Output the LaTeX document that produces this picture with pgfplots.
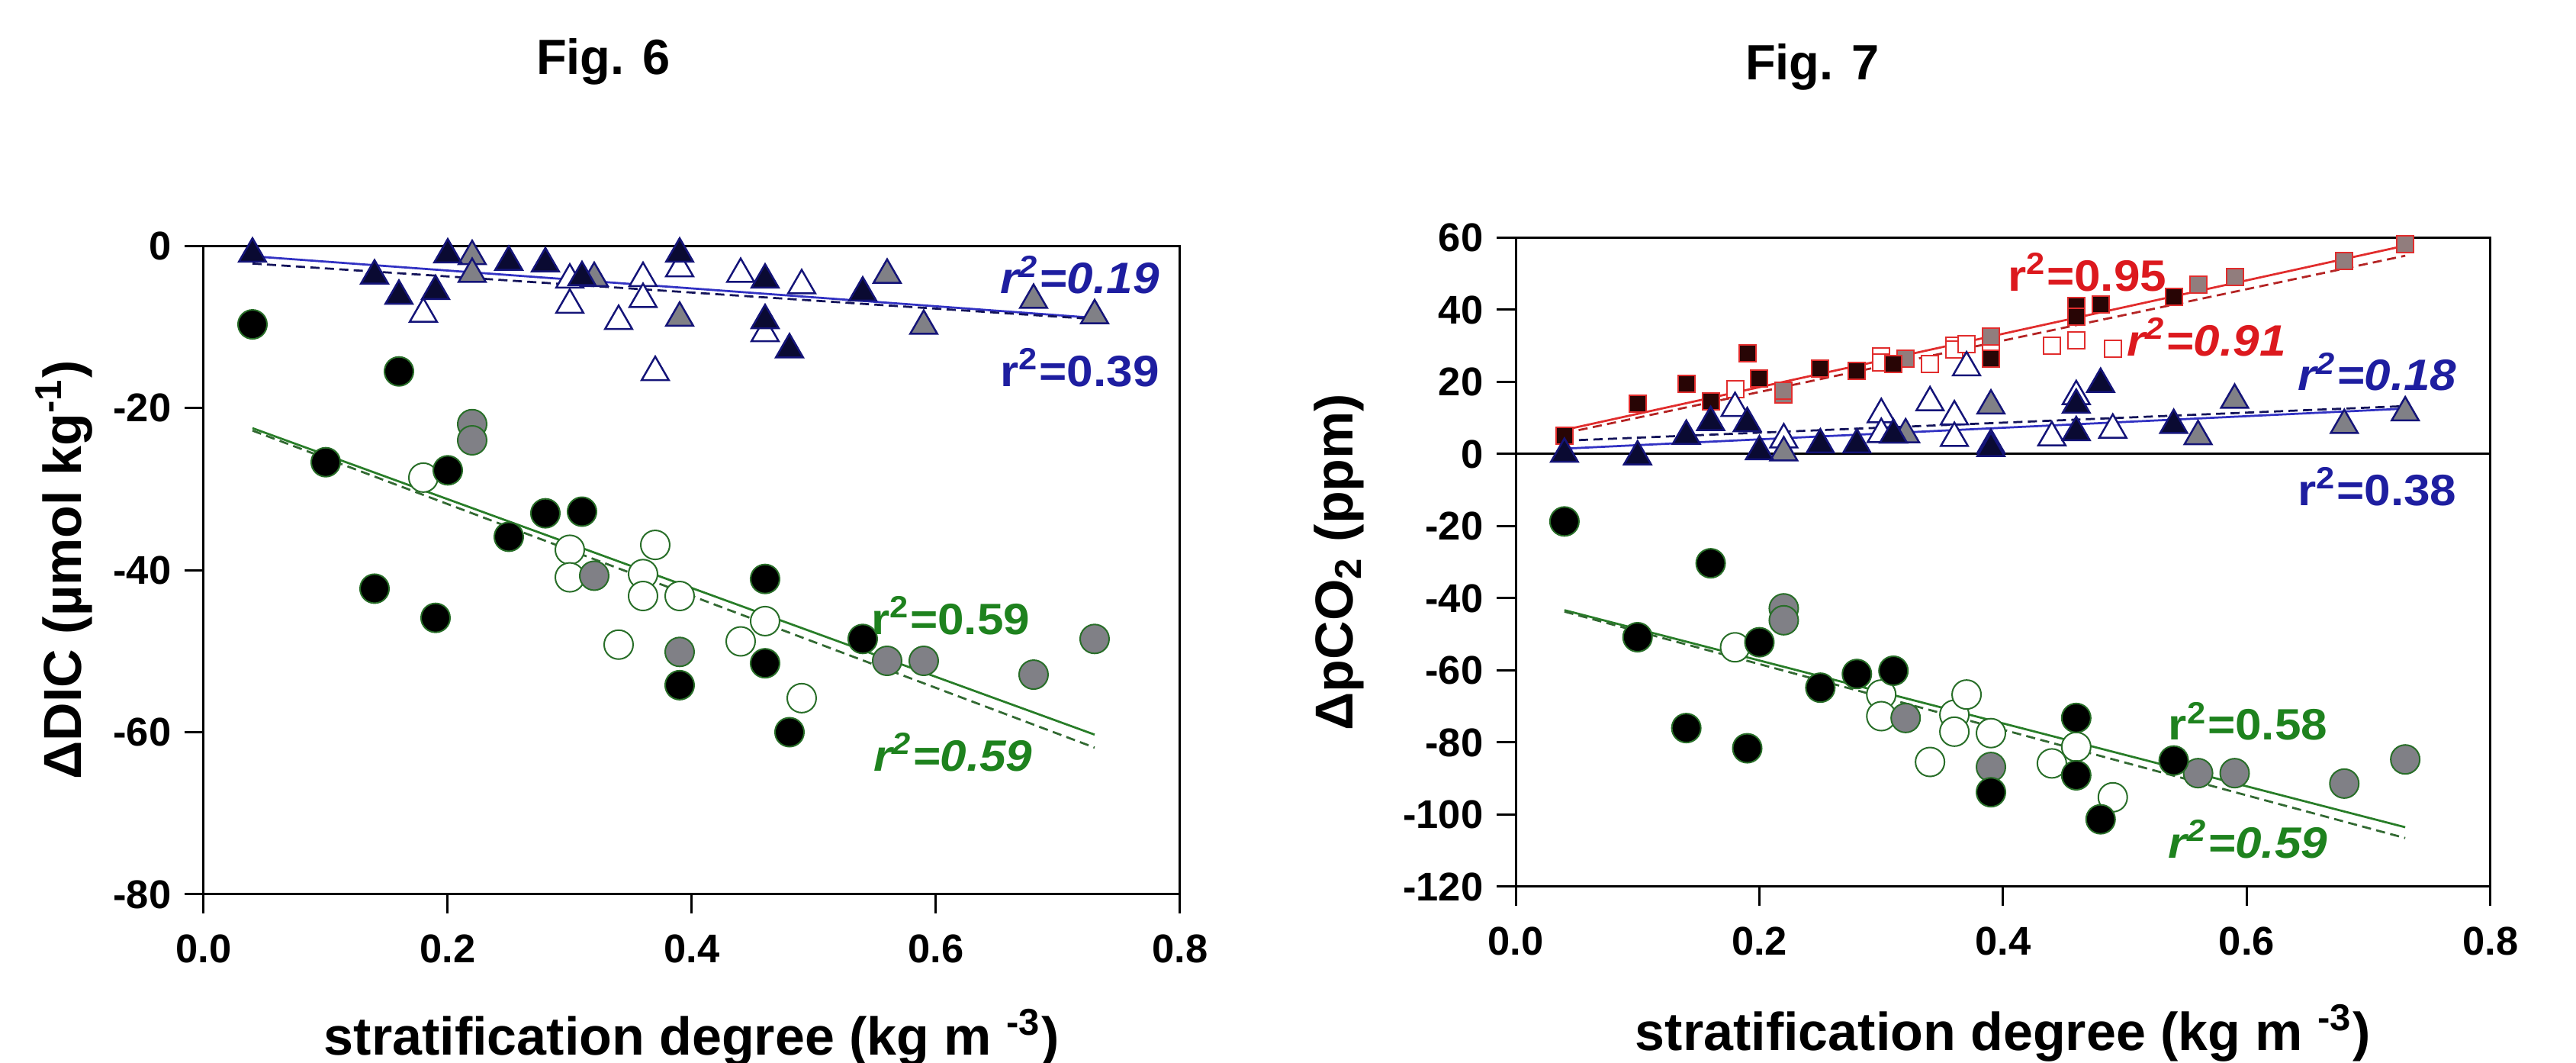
\documentclass[border=0pt]{standalone}
\usepackage{fontspec}
\setmainfont{Liberation Sans}
\usepackage{graphicx}
\usepackage{pgfplots}
\pgfplotsset{compat=1.18}

\definecolor{navyc}{RGB}{20,20,120}
\definecolor{trifill}{RGB}{10,10,50}
\definecolor{grayfill}{RGB}{128,128,134}
\definecolor{bluetext}{RGB}{30,30,160}
\definecolor{blueline}{RGB}{50,50,195}
\definecolor{bluedash}{RGB}{20,20,90}
\definecolor{greenline}{RGB}{40,125,40}
\definecolor{greendash}{RGB}{50,105,50}
\definecolor{greenedge}{RGB}{40,110,40}
\definecolor{greentext}{RGB}{30,130,30}
\definecolor{redc}{RGB}{225,45,45}
\definecolor{redtext}{RGB}{220,25,30}
\definecolor{sqfill}{RGB}{40,5,5}
\definecolor{sqgray}{RGB}{145,125,125}

\newcommand{\rlab}[1]{\scalebox{1.08}[1]{r\textsuperscript{2}=#1}}

\pgfplotsset{
  myaxis/.style={
    scale only axis, clip=false,
    xmin=0, xmax=0.8, xtick={0,0.2,0.4,0.6,0.8},
    tick align=outside, xtick pos=left, ytick pos=left,
    major tick length=5pt,
    axis line style={line width=0.6pt},
    every tick/.style={black, line width=0.6pt},
    /pgf/number format/assume math mode=true,
    tick label style={font=\fontsize{10.5}{12}\selectfont\bfseries},
    xticklabel style={/pgf/number format/fixed, /pgf/number format/fixed zerofill, /pgf/number format/precision=1, yshift=-2pt},
    yticklabel style={/pgf/number format/fixed, /pgf/number format/precision=0},
    label style={font=\fontsize{14}{16}\selectfont\bfseries},
  },
  tblack/.style={only marks, mark=triangle*, mark size=4.1pt, mark options={draw=navyc, fill=trifill, line width=0.5pt}},
  tgray/.style={only marks, mark=triangle*, mark size=4.1pt, mark options={draw=navyc, fill=grayfill, line width=0.5pt}},
  topen/.style={only marks, mark=triangle*, mark size=4.1pt, mark options={draw=navyc, fill=white, line width=0.5pt}},
  cblack/.style={only marks, mark=*, mark size=3.8pt, mark options={draw=greenedge, fill=black, line width=0.4pt}},
  cgray/.style={only marks, mark=*, mark size=3.8pt, mark options={draw=greenedge, fill=grayfill, line width=0.4pt}},
  copen/.style={only marks, mark=*, mark size=3.8pt, mark options={draw=greenedge, fill=white, line width=0.4pt}},
  sblack/.style={only marks, mark=square*, mark size=2.2pt, mark options={draw=redc, fill=sqfill, line width=0.4pt}},
  sgray/.style={only marks, mark=square*, mark size=2.2pt, mark options={draw=redc, fill=sqgray, line width=0.4pt}},
  sopen/.style={only marks, mark=square*, mark size=2.2pt, mark options={draw=redc, fill=white, line width=0.4pt}},
  fitsolid/.style={line width=0.55pt, no marks},
  fitdash/.style={line width=0.55pt, no marks, dash pattern=on 2.4pt off 1.4pt},
}

\begin{document}
\begin{tikzpicture}
\useasboundingbox (0,0) rectangle (675.4pt,278.6pt);

\node[anchor=base, font=\bfseries\fontsize{13}{15}\selectfont] at (158.2pt,259pt) {Fig. 6};
\node[anchor=base, font=\bfseries\fontsize{13}{15}\selectfont] at (475.2pt,257.6pt) {Fig. 7};

% ---------------- Fig. 6 ----------------
\begin{axis}[myaxis,
  at={(53.4pt,44.2pt)}, anchor=south west, width=256pt, height=170pt,
  ymin=-80, ymax=0, ytick={-80,-60,-40,-20,0},
  xlabel={stratification degree (kg m \textsuperscript{-3})},
  ylabel={ΔDIC (µmol kg\textsuperscript{-1})},
  xlabel style={at={(axis description cs:0.5,-0.248)}, anchor=base},
  ylabel style={at={(axis description cs:-0.125,0.5)}, anchor=base},
]
% triangles
\addplot[topen] coordinates {(0.18,-8.4) (0.30,-4.2) (0.30,-7.3) (0.34,-9.3) (0.36,-4.0) (0.36,-6.6) (0.37,-15.6) (0.39,-2.8) (0.44,-3.5) (0.46,-10.8) (0.49,-4.9)};
\addplot[tgray] coordinates {(0.22,-1.3) (0.22,-3.5) (0.32,-4.0) (0.39,-8.9) (0.56,-3.6) (0.59,-9.9) (0.68,-6.7) (0.73,-8.6)};
\addplot[tblack] coordinates {(0.04,-1.0) (0.14,-3.7) (0.16,-6.2) (0.19,-5.6) (0.20,-1.1) (0.25,-2.0) (0.28,-2.2) (0.31,-3.9) (0.39,-1.0) (0.46,-4.2) (0.46,-9.2) (0.48,-12.8) (0.54,-5.8)};
% circles
\addplot[copen] coordinates {(0.18,-28.6) (0.30,-37.5) (0.30,-40.9) (0.34,-49.2) (0.36,-40.5) (0.36,-43.2) (0.37,-36.9) (0.39,-43.2) (0.44,-48.8) (0.46,-46.3) (0.49,-55.8)};
\addplot[cgray] coordinates {(0.22,-22.0) (0.22,-24.0) (0.32,-40.7) (0.39,-50.1) (0.56,-51.2) (0.59,-51.2) (0.68,-52.9) (0.73,-48.5)};
\addplot[cblack] coordinates {(0.04,-9.7) (0.10,-26.7) (0.14,-42.3) (0.16,-15.5) (0.19,-45.9) (0.20,-27.7) (0.25,-35.9) (0.28,-33.0) (0.31,-32.8) (0.39,-54.2) (0.46,-41.1) (0.46,-51.5) (0.48,-60.0) (0.54,-48.5)};
% fits
\addplot[fitsolid, blueline] coordinates {(0.04,-1.3) (0.73,-8.9)};
\addplot[fitdash, bluedash] coordinates {(0.04,-2.2) (0.73,-9.05)};
\addplot[fitsolid, greenline] coordinates {(0.04,-22.5) (0.73,-60.3)};
\addplot[fitdash, greendash] coordinates {(0.04,-22.8) (0.73,-61.9)};
% labels
\node[inner sep=0, text=bluetext, font=\bfseries\itshape\fontsize{11.5}{13}\selectfont] at (axis cs:0.718,-3.6) {\rlab{0.19}};
\node[inner sep=0, text=bluetext, font=\bfseries\fontsize{11.5}{13}\selectfont] at (axis cs:0.718,-15.0) {\rlab{0.39}};
\node[inner sep=0, text=greentext, font=\bfseries\fontsize{11.5}{13}\selectfont] at (axis cs:0.612,-45.6) {\rlab{0.59}};
\node[inner sep=0, text=greentext, font=\bfseries\itshape\fontsize{11.5}{13}\selectfont] at (axis cs:0.614,-62.5) {\rlab{0.59}};
\end{axis}

% ---------------- Fig. 7 ----------------
\begin{axis}[myaxis,
  at={(397.4pt,46.2pt)}, anchor=south west, width=255.6pt, height=170.1pt,
  ymin=-120, ymax=60, ytick={-120,-100,-80,-60,-40,-20,0,20,40,60},
  xlabel={stratification degree (kg m \textsuperscript{-3})},
  ylabel={ΔpCO\textsubscript{2} (ppm)},
  xlabel style={at={(axis description cs:0.5,-0.252)}, anchor=base},
  ylabel style={at={(axis description cs:-0.167,0.5)}, anchor=base},
]
\addplot[black, line width=0.6pt, no marks, forget plot] coordinates {(0,0) (0.8,0)};
% squares
\addplot[sopen] coordinates {(0.18,18) (0.30,27) (0.30,25.5) (0.34,25) (0.36,30) (0.36,29) (0.37,30.5) (0.39,30.5) (0.44,30) (0.46,31.5) (0.49,29.3)};
\addplot[sgray] coordinates {(0.22,16.6) (0.22,17.6) (0.32,26.5) (0.39,32.5) (0.56,47) (0.59,49) (0.68,53.6) (0.73,58.3)};
\addplot[sblack] coordinates {(0.04,5) (0.10,14) (0.14,19.5) (0.16,14.5) (0.19,28) (0.20,21) (0.25,23.6) (0.28,23) (0.31,25) (0.39,26.5) (0.46,41) (0.46,38) (0.48,41.5) (0.54,43.5)};
% triangles
\addplot[topen] coordinates {(0.18,12.7) (0.22,4) (0.30,11) (0.30,5.5) (0.34,14.3) (0.36,10.4) (0.36,4.4) (0.37,24) (0.39,2.5) (0.44,4.6) (0.46,16) (0.49,6.7)};
\addplot[tgray] coordinates {(0.22,0.4) (0.32,5.4) (0.39,13.4) (0.56,4.9) (0.59,15) (0.68,8) (0.73,11.5)};
\addplot[tblack] coordinates {(0.04,0) (0.10,-0.7) (0.14,5) (0.16,8.8) (0.19,8.5) (0.20,0.7) (0.25,2.6) (0.28,2.6) (0.31,5.3) (0.39,1.6) (0.46,13.6) (0.46,6) (0.48,19.4) (0.54,8)};
% circles
\addplot[copen] coordinates {(0.18,-53.6) (0.30,-66.7) (0.30,-72.7) (0.34,-85.4) (0.36,-72.3) (0.36,-77) (0.37,-66.7) (0.39,-77.4) (0.44,-85.8) (0.46,-81.2) (0.49,-95.2)};
\addplot[cgray] coordinates {(0.22,-42.8) (0.22,-46.1) (0.32,-73.2) (0.39,-86.8) (0.56,-88.5) (0.59,-88.5) (0.68,-91.4) (0.73,-84.7)};
\addplot[cblack] coordinates {(0.04,-18.7) (0.10,-50.8) (0.14,-76) (0.16,-30.3) (0.19,-81.6) (0.20,-52.2) (0.25,-64.8) (0.28,-61) (0.31,-60.1) (0.39,-93.8) (0.46,-73.2) (0.46,-89.1) (0.48,-101.3) (0.54,-85)};
% fits
\addplot[fitsolid, redc] coordinates {(0.04,6.7) (0.73,57.8)};
\addplot[fitdash, redc!80!black] coordinates {(0.04,5.8) (0.73,55.0)};
\addplot[fitsolid, blueline] coordinates {(0.04,1.5) (0.73,12.6)};
\addplot[fitdash, bluedash] coordinates {(0.04,3.7) (0.73,13.3)};
\addplot[fitsolid, greenline] coordinates {(0.04,-43.3) (0.73,-103.5)};
\addplot[fitdash, greendash] coordinates {(0.04,-43.7) (0.73,-106.5)};
% labels
\node[inner sep=0, text=redtext, font=\bfseries\fontsize{11.5}{13}\selectfont] at (axis cs:0.469,50.5) {\rlab{0.95}};
\node[inner sep=0, text=redtext, font=\bfseries\itshape\fontsize{11.5}{13}\selectfont] at (axis cs:0.567,32.4) {\rlab{0.91}};
\node[inner sep=0, text=bluetext, font=\bfseries\itshape\fontsize{11.5}{13}\selectfont] at (axis cs:0.707,22.8) {\rlab{0.18}};
\node[inner sep=0, text=bluetext, font=\bfseries\fontsize{11.5}{13}\selectfont] at (axis cs:0.707,-9.0) {\rlab{0.38}};
\node[inner sep=0, text=greentext, font=\bfseries\fontsize{11.5}{13}\selectfont] at (axis cs:0.601,-74.1) {\rlab{0.58}};
\node[inner sep=0, text=greentext, font=\bfseries\itshape\fontsize{11.5}{13}\selectfont] at (axis cs:0.601,-106.9) {\rlab{0.59}};
\end{axis}
\end{tikzpicture}
\end{document}
